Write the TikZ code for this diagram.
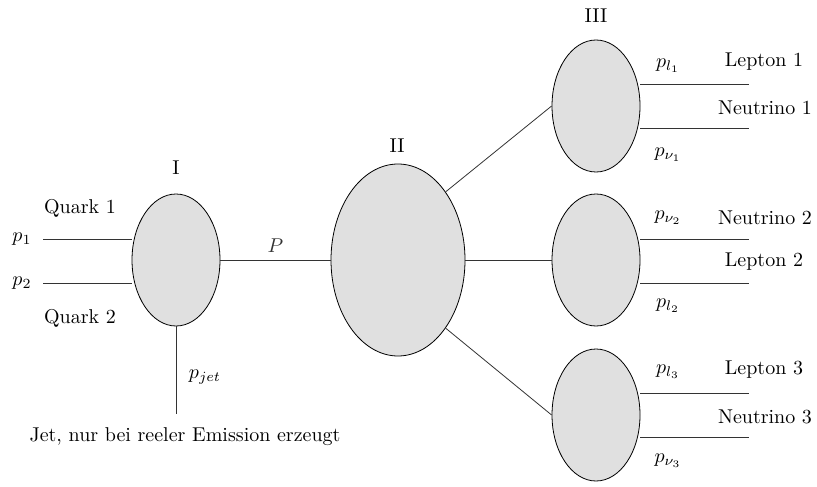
\documentclass[tikz,border=0pt]{standalone}
\usepackage{tikz}
\usetikzlibrary{shapes.geometric, positioning, calc}
\tikzstyle{blob} = [ellipse, draw, fill=black!12, inner sep=0pt, minimum width=44pt, minimum height=66pt]
\tikzstyle{bigblob} = [blob, minimum width=67pt, minimum height=96pt]
\tikzstyle{line} = [draw, black!80]
\tikzstyle{note} = [inner sep=1pt]

\begin{document}
\begin{tikzpicture}[x=0.5pt, y=-0.5pt]
    \useasboundingbox (0,0) rectangle (817,486);

    % vertices
    \node (I) [blob] at (176,260) {};
    \node (II) [bigblob] at (398,260) {};
    \node (IIIa) [blob] at (596,106) {};
    \node (IIIb) [blob] at (596,260) {};
    \node (IIIc) [blob] at (596,415) {};

    \node (labI) [note] at (176,168) {I};
    \node (labII) [note] at (397,146) {II};
    \node (labIII) [note] at (596,16) {III};

    % incoming quarks
    \coordinate (q1) at (43,239);
    \coordinate (q2) at (43,283);
    \draw[line] (q1) -- (q1 -| I.west);
    \draw[line] (q2) -- (q2 -| I.west);
    \node[note] (p1) at (22,239) {$p_1$};
    \node[note] (p2) at (22,283) {$p_2$};
    \node[note] (quark1) at (80,208) {Quark 1};
    \node[note] (quark2) at (80,318) {Quark 2};

    % jet
    \coordinate (jet) at (176,414);
    \draw[line] (I.south) -- (jet);
    \node[note] (pjet) at (205,377) {$p_{jet}$};
    \node[note] (jettext) at (185,437) {Jet, nur bei reeler Emission erzeugt};

    % propagators
    \draw[line] (I.east) -- node[above] {$P$} (II.west);
    \draw[line] (II.north east) -- (IIIa.west);
    \draw[line] (II.east) -- (IIIb.west);
    \draw[line] (II.south east) -- (IIIc.west);

    % outgoing leptons
    \coordinate (o1) at (749,84);
    \coordinate (o2) at (749,128);
    \coordinate (o3) at (749,239);
    \coordinate (o4) at (749,283);
    \coordinate (o5) at (749,393);
    \coordinate (o6) at (749,437);
    \draw[line] (o1 -| IIIa.east) -- (o1);
    \draw[line] (o2 -| IIIa.east) -- (o2);
    \draw[line] (o3 -| IIIb.east) -- (o3);
    \draw[line] (o4 -| IIIb.east) -- (o4);
    \draw[line] (o5 -| IIIc.east) -- (o5);
    \draw[line] (o6 -| IIIc.east) -- (o6);

    \node[note] (pl1) at (668,66) {$p_{l_1}$};
    \node[note] (pn1) at (668,155) {$p_{\nu_1}$};
    \node[note] (pn2) at (668,218) {$p_{\nu_2}$};
    \node[note] (pl2) at (668,306) {$p_{l_2}$};
    \node[note] (pl3) at (668,372) {$p_{l_3}$};
    \node[note] (pn3) at (668,461) {$p_{\nu_3}$};

    \node[note] (lep1) at (764,62) {Lepton 1};
    \node[note] (neu1) at (765,108) {Neutrino 1};
    \node[note] (neu2) at (765,218) {Neutrino 2};
    \node[note] (lep2) at (764,262) {Lepton 2};
    \node[note] (lep3) at (764,370) {Lepton 3};
    \node[note] (neu3) at (765,417) {Neutrino 3};
\end{tikzpicture}
\end{document}
